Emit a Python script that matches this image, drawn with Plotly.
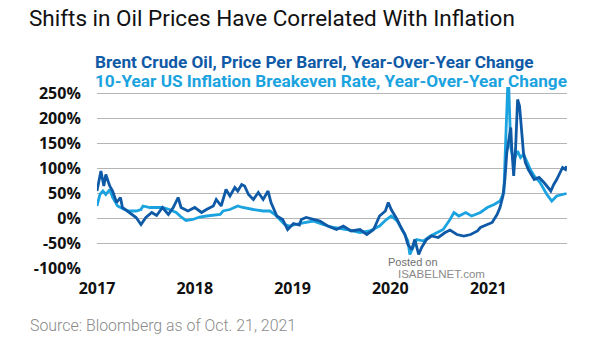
import pandas as pd
import plotly.graph_objects as go

# ---- data (decimal years, YoY % change) ----
brent_years = [2017.00, 2017.04, 2017.07, 2017.09, 2017.13, 2017.16, 2017.20, 2017.24, 2017.26,
               2017.33, 2017.40, 2017.45, 2017.50, 2017.56, 2017.61, 2017.67, 2017.73, 2017.78,
               2017.83, 2017.86, 2017.93, 2018.00, 2018.07, 2018.12, 2018.19, 2018.22, 2018.27,
               2018.32, 2018.36, 2018.41, 2018.44, 2018.48, 2018.51, 2018.55, 2018.60, 2018.65,
               2018.70, 2018.75, 2018.78, 2018.84, 2018.90, 2018.95, 2019.01, 2019.07, 2019.09,
               2019.14, 2019.21, 2019.28, 2019.36, 2019.45, 2019.52, 2019.60, 2019.69, 2019.76,
               2019.83, 2019.89, 2019.95, 2019.98, 2020.01, 2020.07, 2020.12, 2020.15, 2020.18,
               2020.22, 2020.25, 2020.29, 2020.32, 2020.37, 2020.42, 2020.49, 2020.56, 2020.61,
               2020.68, 2020.75, 2020.82, 2020.89, 2020.92, 2020.99, 2021.04, 2021.09, 2021.12,
               2021.15, 2021.17, 2021.19, 2021.23, 2021.24, 2021.26, 2021.28, 2021.30, 2021.32,
               2021.34, 2021.36, 2021.38, 2021.41, 2021.47, 2021.52, 2021.57, 2021.60, 2021.64,
               2021.67, 2021.70, 2021.76, 2021.79, 2021.80]
brent_yoy = [55, 95, 65, 88, 65, 55, 32, 42, 22,
             12, 2, -12, 2, 12, 6, 22, 8, 22,
             42, 22, 15, 22, 12, 18, 25, 38, 25,
             58, 45, 62, 55, 68, 65, 48, 38, 52,
             38, 55, 32, 5, -2, -22, -10, -13, -2,
             2, -2, -5, -15, -22, -15, -25, -22, -32,
             -22, 5, 15, 32, 18, -2, -22, -32, -52,
             -62, -42, -72, -58, -42, -35, -38, -28, -23,
             -32, -35, -32, -25, -18, -12, -8, 8, 22,
             45, 78, 132, 182, 142, 85, 142, 238, 225,
             180, 132, 112, 98, 78, 82, 72, 65, 55,
             68, 78, 102, 98, 105]

breakeven_years = [2017.00, 2017.03, 2017.06, 2017.09, 2017.13, 2017.16, 2017.21, 2017.28, 2017.33,
                   2017.40, 2017.45, 2017.47, 2017.54, 2017.61, 2017.67, 2017.74, 2017.81, 2017.86,
                   2017.91, 2017.98, 2018.05, 2018.12, 2018.19, 2018.26, 2018.29, 2018.36, 2018.44,
                   2018.49, 2018.60, 2018.70, 2018.77, 2018.82, 2018.87, 2018.92, 2018.97, 2019.07,
                   2019.21, 2019.31, 2019.42, 2019.55, 2019.69, 2019.79, 2019.89, 2019.96, 2020.01,
                   2020.07, 2020.13, 2020.18, 2020.20, 2020.27, 2020.34, 2020.41, 2020.48, 2020.54,
                   2020.61, 2020.65, 2020.70, 2020.77, 2020.83, 2020.92, 2020.99, 2021.06, 2021.12,
                   2021.16, 2021.17, 2021.19, 2021.20, 2021.21, 2021.23, 2021.26, 2021.30, 2021.33,
                   2021.36, 2021.40, 2021.43, 2021.47, 2021.53, 2021.60, 2021.65, 2021.70, 2021.76,
                   2021.80]
breakeven_yoy = [25, 48, 55, 48, 58, 42, 25, 18, 15,
                 15, 18, 25, 22, 22, 22, 18, 12, 3,
                 -4, -2, 3, 5, 6, 8, 15, 18, 25,
                 22, 18, 15, 15, 8, -2, -12, -15, -10,
                 -5, -12, -18, -22, -28, -25, -15, -2, 5,
                 -5, -25, -45, -72, -42, -45, -35, -28, -22,
                 -2, 12, 5, 12, 5, 12, 22, 28, 35,
                 52, 112, 198, 270, 262, 142, 115, 135, 122,
                 128, 112, 98, 85, 72, 48, 35, 45, 48,
                 50]

y_tick_vals = [-100, -50, 0, 50, 100, 150, 200, 250]
y_tick_text = ["-100%", "-50%", "0%", "50%", "100%", "150%", "200%", "250%"]
x_tick_years = ["2017", "2018", "2019", "2020", "2021"]

title_text = "Shifts in Oil Prices Have Correlated With Inflation"
brent_label = "Brent Crude Oil, Price Per Barrel, Year-Over-Year Change"
breakeven_label = "10-Year US Inflation Breakeven Rate, Year-Over-Year Change"
source_text = "Source: Bloomberg as of Oct. 21, 2021"


def to_dates(years):
    out = []
    for y in years:
        yr = int(y)
        start = pd.Timestamp(year=yr, month=1, day=1)
        end = pd.Timestamp(year=yr + 1, month=1, day=1)
        out.append(start + (end - start) * (y - yr))
    return out


DARK = "#0f5aa6"
LIGHT = "#1ba3e0"

W, H = 605, 341
L, R, T, B = 97, 38, 86.5, 71.5
plot_h = H - T - B

fig = go.Figure()
fig.add_trace(go.Scatter(x=to_dates(breakeven_years), y=breakeven_yoy, mode="lines",
                         line=dict(color=LIGHT, width=2.8), showlegend=False))
fig.add_trace(go.Scatter(x=to_dates(brent_years), y=brent_yoy, mode="lines",
                         line=dict(color=DARK, width=2.8), showlegend=False))


def py(pix):  # pixel row -> paper y
    return (H - B - pix) / plot_h


def px(pix):  # pixel column -> paper x
    return (pix - L) / (W - L - R)


annos = [
    dict(text=brent_label, x=px(93), y=py(61), color=DARK, size=17.2, weight="bold", family="Roboto"),
    dict(text=breakeven_label, x=px(93), y=py(80), color=LIGHT, size=17.2, weight="bold", family="Roboto"),
    dict(text=source_text, x=px(28), y=py(326), color="#8a8a8a", size=15.9, weight=300, family="Roboto"),
    dict(text="Posted on", x=px(386), y=py(262), color="#6f6f6f", size=11, weight="normal", family="Liberation Sans"),
    dict(text="ISABELNET.com", x=px(396), y=py(275), color="#8a8a8a", size=11.5, weight="normal", family="Liberation Sans"),
]
for a in annos:
    fig.add_annotation(text=a["text"], xref="paper", yref="paper", x=a["x"], y=a["y"],
                       xanchor="left", yanchor="middle", showarrow=False,
                       font=dict(color=a["color"], size=a["size"], weight=a["weight"], family=a["family"]))

fig.update_layout(
    width=W, height=H,
    margin=dict(l=L, r=R, t=T, b=B, pad=0),
    paper_bgcolor="white", plot_bgcolor="white",
    title=dict(text=title_text, x=29 / W, xanchor="left", y=1 - 18 / H, yanchor="middle",
               font=dict(family="Roboto", size=22.5, color="#111111")),
    xaxis=dict(type="date", range=[pd.Timestamp("2017-01-01"), pd.Timestamp("2021-10-22")],
               tickvals=[pd.Timestamp(f"{y}-01-01") for y in x_tick_years],
               ticktext=x_tick_years, showgrid=False, zeroline=False, showline=False,
               ticks="outside", ticklen=5, tickcolor="rgba(0,0,0,0)",
               tickfont=dict(family="Open Sans", size=16, color="#111111", weight="bold")),
    yaxis=dict(range=[-101, 263], tickvals=y_tick_vals, ticktext=y_tick_text,
               showgrid=True, gridcolor="#b5b5b5", gridwidth=1.4, zeroline=False, showline=False,
               ticks="outside", ticklen=12, tickcolor="rgba(0,0,0,0)",
               tickfont=dict(family="Open Sans", size=16, color="#111111", weight="bold")),
)

fig.write_html("out.html")
